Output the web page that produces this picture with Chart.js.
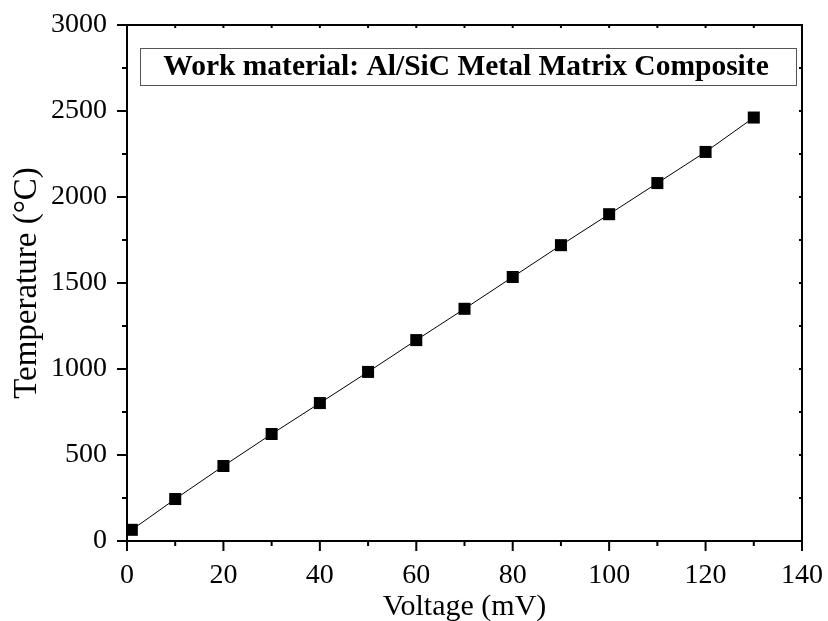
<!DOCTYPE html>
<html>
<head>
<meta charset="utf-8">
<script src="https://cdn.jsdelivr.net/npm/chart.js@4/dist/chart.umd.min.js"></script>
<style>
  html, body { margin: 0; padding: 0; background: #fff; }
  #wrap { width: 828px; height: 621px; }
</style>
</head>
<body>
<div id="wrap"><canvas id="tempChart" width="828" height="621"></canvas></div>
<script>
// ── Data ─────────────────────────────────────────────────────────────
const voltage     = [1, 10, 20, 30, 40, 50, 60, 70, 80, 90, 100, 110, 120, 130];
const temperature = [65, 244, 436, 622, 802, 983, 1168, 1350, 1535, 1720, 1900, 2081, 2262, 2462];
const xTicks      = [0, 20, 40, 60, 80, 100, 120, 140];
const yTicks      = [0, 500, 1000, 1500, 2000, 2500, 3000];
const boxLabel    = 'Work material: Al/SiC Metal Matrix Composite';

const FONT = '"Liberation Serif", "Times New Roman", serif';

// labels may overflow the plot edges, like the original figure
const noOverflow = s => { s.paddingLeft = s.paddingRight = s.paddingTop = s.paddingBottom = 0; };

// ── Frame, ticks (major + minor) and label box ───────────────────────
const framePlugin = {
  id: 'frame',
  afterDraw(chart) {
    const { ctx, chartArea: a, scales: { x, y } } = chart;
    ctx.save();
    ctx.strokeStyle = '#000';
    ctx.lineWidth = 2;
    ctx.strokeRect(a.left, a.top, a.right - a.left, a.bottom - a.top);

    ctx.beginPath();
    for (let v = 0; v <= 140; v += 10) {
      const px = x.getPixelForValue(v);
      const len = v % 20 === 0 ? 10 : 5;
      ctx.moveTo(px, a.bottom); ctx.lineTo(px, a.bottom + len);
      ctx.moveTo(px, a.top);    ctx.lineTo(px, a.top + 3);
    }
    for (let v = 0; v <= 3000; v += 250) {
      const py = y.getPixelForValue(v);
      const len = v % 500 === 0 ? 10 : 5;
      ctx.moveTo(a.left, py);  ctx.lineTo(a.left - len, py);
      ctx.moveTo(a.right, py); ctx.lineTo(a.right - 3, py);
    }
    ctx.stroke();

    // annotation box
    const bx = a.left + 13, by = a.top + 23, bw = a.right - a.left - 19, bh = 37;
    ctx.lineWidth = 1;
    ctx.strokeStyle = '#555';
    ctx.strokeRect(bx + 0.5, by + 0.5, bw, bh);
    ctx.fillStyle = '#000';
    ctx.font = 'bold 29.5px ' + FONT;
    ctx.textAlign = 'center';
    ctx.textBaseline = 'middle';
    ctx.fillText(boxLabel, bx + bw / 2 - 2, by + bh / 2 + 1);
    ctx.restore();
  },
};

new Chart(document.getElementById('tempChart'), {
  type: 'line',
  data: {
    datasets: [{
      data: voltage.map((v, i) => ({ x: v, y: temperature[i] })),
      borderColor: '#000', borderWidth: 1,
      pointStyle: 'rect', pointRadius: 8.5, pointHoverRadius: 8.5,
      pointBackgroundColor: '#000', pointBorderColor: '#000', pointBorderWidth: 0,
      tension: 0, fill: false,
    }],
  },
  options: {
    responsive: false, animation: false,
    layout: { padding: { left: 0, right: 26, top: 25, bottom: 0 } },
    plugins: { legend: { display: false }, tooltip: { enabled: false } },
    scales: {
      x: {
        type: 'linear', min: 0, max: 140,
        afterBuildTicks: s => { s.ticks = xTicks.map(v => ({ value: v })); },
        afterFit: s => { s.height = 80; noOverflow(s); },
        grid: { display: false }, border: { display: false },
        ticks: { color: '#000', font: { family: FONT, size: 28 }, padding: 10,
                 callback: v => String(v) },
        title: { display: true, text: 'Voltage (mV)', color: '#000',
                 font: { family: FONT, size: 30 }, padding: { top: 0, bottom: -4 } },
      },
      y: {
        type: 'linear', min: 0, max: 3000,
        afterBuildTicks: s => { s.ticks = yTicks.map(v => ({ value: v })); },
        afterFit: s => { s.width = 127; noOverflow(s); },
        grid: { display: false }, border: { display: false },
        ticks: { color: '#000', font: { family: FONT, size: 28 }, padding: 12,
                 callback: v => String(v) },
        title: { display: true, text: 'Temperature (°C)', color: '#000',
                 font: { family: FONT, size: 33 }, padding: { top: 8, bottom: 0 } },
      },
    },
  },
  plugins: [framePlugin],
});
</script>
</body>
</html>
